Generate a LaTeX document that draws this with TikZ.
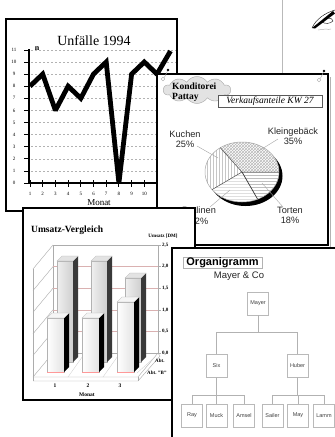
\documentclass[tikz,border=0pt]{standalone}
\usepackage{fontspec}
\setmainfont{Liberation Serif}
\setsansfont{Liberation Sans}
\usetikzlibrary{patterns,shapes.symbols,calc}
\newcommand{\fz}[1]{\fontsize{#1}{#1}\selectfont}
\begin{document}
\begin{tikzpicture}[x=1pt,y=-1pt,
  panel/.style={draw=black,line width=1.4pt,fill=white},
  ticklab/.style={inner sep=0pt,font=\fz{5}},
  grid1/.style={gray!60,line width=0.5pt,dash pattern=on 1.5pt off 2.5pt},
  pielab/.style={inner sep=0pt,align=center,text=black!85,font=\sffamily\fontsize{9.2}{10.5}\selectfont},
  leader/.style={gray!70,line width=0.4pt},
  wall/.style={gray!65,line width=0.4pt},
  valab/.style={inner sep=0pt,anchor=west,font=\bfseries\fz{5}},
  orgbox/.style={draw=gray!55,line width=0.5pt,fill=white,minimum width=21pt,minimum height=23pt,inner sep=0pt,text=black!75,font=\sffamily\fz{5.5}},
  conn/.style={gray!60,line width=0.5pt}
]
\useasboundingbox (0,0) rectangle (335,437);
\fill[white] (0,0) rectangle (335,437);

% sheet behind, top right, with a pen sketch
\draw[gray!55,line width=0.5pt] (282,0) -- (282,74);
\fill[black] (312,28) -- (333,11) -- (335,13.5) -- (315,28.5) -- cycle;
\draw[black,line width=0.4pt] (312,28) .. controls (316,19) and (325,13) .. (335,10);
\draw[black,line width=0.4pt] (322,22) .. controls (326,17) and (332,17) .. (333,21) .. controls (330,24) and (325,24) .. (322,22);
\draw[gray!70,line width=0.4pt] (318,30) .. controls (321,28) and (323,31) .. (326,29) .. controls (328,28) and (329,31) .. (331,29);

% ---------------- Unfälle 1994
\draw[panel] (6,19) rectangle (177,211);
\node[font=\fz{14}] (unftitle) at (94,41) {Unfälle 1994};
\foreach \v in {1,...,11}
  \draw[grid1] (31,{183-\v*12.1}) -- (176,{183-\v*12.1});
\draw[line width=1.7pt] (29,49) -- (29,183) -- (176,183);
\foreach \v in {0,...,11}{
  \draw[line width=0.8pt] (24,{183-\v*12.1}) -- (29,{183-\v*12.1});
  \node[ticklab] (yl\v) at (14,{183-\v*12.1}) {\v};
}
\foreach \m in {1,...,10}{
  \draw[line width=1pt] ({30+(\m-1)*12.7},180) -- ({30+(\m-1)*12.7},187);
  \node[ticklab] (xl\m) at ({30+(\m-1)*12.7},194) {\m};
}
\node[font=\bfseries\fz{8}] (nlab) at (37,49) {n};
\node[font=\fz{9}] (monat1) at (99,203) {Monat};
\draw[line width=4.8pt,line join=miter,miter limit=2.5]
  (30,86.2) -- (42.7,74.1) -- (55.4,110.4) -- (68.1,86.2) -- (80.8,98.3)
  -- (93.5,74.1) -- (106.2,62) -- (118.9,183) -- (131.6,74.1) -- (144.3,62)
  -- (157,74.1) -- (170.5,51);

% ---------------- Konditorei Pattay
\draw[gray!60,line width=0.6pt] (330.5,77) -- (330.5,247.5) -- (160,247.5);
\draw[panel] (157,74) rectangle (328,245);
\fill (168,70) circle (1.4);
\draw[gray!70,line width=0.4pt] (163,79) circle (1.8) (164.3,77.6) -- (167.5,71);
\fill (324,71) circle (1.4);
\draw[gray!70,line width=0.4pt] (319,80) circle (1.8) (320.3,78.6) -- (323.5,72);
\node[cloud,cloud puffs=10,cloud puff arc=115,aspect=2.6,draw=gray!70,fill=gray!22,
      minimum width=67pt,minimum height=27pt,inner sep=0pt] (cloud) at (197,90) {};
\node[anchor=west,inner sep=0pt,align=left,font=\bfseries\fontsize{9.5}{10}\selectfont] (kond) at (172,92) {Konditorei\\Pattay};
\node[draw=gray!70!black,line width=0.5pt,fill=white,minimum width=104pt,minimum height=12pt,
      inner sep=0pt,font=\itshape\fz{9.5}] (vk) at (270,101) {Verkaufsanteile KW 27};

\begin{scope}[shift={(242pt,-172pt)},y=1pt]
  \fill[black] (3.5,-4) ellipse [x radius=37pt,y radius=30pt];
  \fill[white] (0,0) ellipse [x radius=37pt,y radius=30pt];
  \path[pattern=crosshatch,pattern color=gray!55] (0,0) -- (0:37pt and 30pt)
    arc[start angle=0,end angle=126,x radius=37pt,y radius=30pt] -- cycle;
  \path[pattern=vertical lines,pattern color=gray!45] (0,0) -- (126:37pt and 30pt)
    arc[start angle=126,end angle=216,x radius=37pt,y radius=30pt] -- cycle;
  \path[pattern=horizontal lines,pattern color=gray!25] (0,0) -- (216:37pt and 30pt)
    arc[start angle=216,end angle=295,x radius=37pt,y radius=30pt] -- cycle;
  \path[pattern=horizontal lines,pattern color=gray!50] (0,0) -- (295:37pt and 30pt)
    arc[start angle=295,end angle=360,x radius=37pt,y radius=30pt] -- cycle;
  \draw[gray!70,line width=0.5pt] (0,0) ellipse [x radius=37pt,y radius=30pt];
  \draw[gray!60!black,line width=0.5pt] (0:37pt and 30pt) -- (0,0) -- (126:37pt and 30pt)
    (0,0) -- (216:37pt and 30pt);
  \draw[black!80,line width=0.7pt] (0,0) -- (295:37pt and 30pt);
\end{scope}
\node[pielab] (kuchen) at (185,139) {Kuchen\\25\%};
\node[pielab] (klein) at (293,136) {Kleingebäck\\35\%};
\node[pielab] (torten) at (290,215.5) {Torten\\18\%};
\node[pielab] (pral) at (199,215.5) {Pralinen\\22\%};
\coordinate (kuA) at (197,146); \coordinate (kuB) at (218,158);
\coordinate (klA) at (278,139); \coordinate (klB) at (257,152);
\coordinate (toA) at (283,207); \coordinate (toB) at (262,183);
\coordinate (prA) at (210,207); \coordinate (prB) at (230,190);
\draw[leader] (kuA) -- (kuB) (klA) -- (klB) (toA) -- (toB) (prA) -- (prB);

% ---------------- Umsatz-Vergleich
\draw[panel] (23,208) rectangle (195,400);
\node[anchor=west,inner sep=0pt,font=\bfseries\fz{9.5}] (umtitle) at (31,230) {Umsatz-Vergleich};
\node[inner sep=0pt,font=\bfseries\fz{5}] (umaxis) at (163,236) {Umsatz [DM]};
% walls and floor
\draw[wall] (53,245) rectangle (158,353);
\foreach \k in {1,...,4}
  \draw[red!35!gray!45,line width=0.4pt] (53,{245+\k*21.6}) -- (158,{245+\k*21.6});
\foreach \k in {0,...,5}{
  \draw[wall] (53,{245+\k*21.6}) -- (33,{269+\k*21.6});
  \draw[wall] (158,{245+\k*21.6}) -- (161,{245+\k*21.6});
}
\draw[wall] (33,269) -- (33,381);
\draw[wall] (33,377) -- (138,377) -- (158,353);
\draw[wall] (33,381) -- (138,381) -- (160,356) -- (158,353);
\draw[wall] (138,377) -- (138,381);
\draw[gray!40,line width=0.3pt] (85,353) -- (68,377) (120,353) -- (103,377) (155,357) -- (137,373);
\node[valab] (v25) at (162,245) {2,5};
\node[valab] (v20) at (162,266.6) {2,0};
\node[valab] (v15) at (162,288.2) {1,5};
\node[valab] (v10) at (162,309.8) {1,0};
\node[valab] (v05) at (162,331.4) {0,5};
\node[valab] (v00) at (162,353) {0,0};
% back row bars
\foreach \xl/\tp in {57/261, 91/261, 125/278}{
  \shade[left color=gray!12,right color=gray!38] (\xl,\tp) rectangle ({\xl+16},362);
  \draw[gray!60,line width=0.3pt] (\xl,\tp) rectangle ({\xl+16},362);
  \fill[gray!45!black] ({\xl+16},\tp) -- ({\xl+21},{\tp-5}) -- ({\xl+21},357) -- ({\xl+16},362) -- cycle;
  \filldraw[fill=gray!22,draw=gray!60,line width=0.3pt] (\xl,\tp) -- ({\xl+5},{\tp-5}) -- ({\xl+21},{\tp-5}) -- ({\xl+16},\tp) -- cycle;
}
% front row bars
\foreach \xl/\tp in {47/318, 82/318, 117/302}{
  \shade[left color=white,right color=gray!22] (\xl,\tp) rectangle ({\xl+17},372);
  \draw[gray!60,line width=0.3pt] (\xl,\tp) rectangle ({\xl+17},372);
  \draw[red!40,line width=0.4pt] (\xl,372) -- ({\xl+17},372);
  \fill[black] ({\xl+17},\tp) -- ({\xl+22},{\tp-5}) -- ({\xl+22},367) -- ({\xl+17},372) -- cycle;
  \filldraw[fill=gray!8,draw=gray!60,line width=0.3pt] (\xl,\tp) -- ({\xl+5},{\tp-5}) -- ({\xl+22},{\tp-5}) -- ({\xl+17},\tp) -- cycle;
}
\node[inner sep=0pt,font=\bfseries\fz{5.5}] (c1) at (55,386) {1};
\node[inner sep=0pt,font=\bfseries\fz{5.5}] (c2) at (88,386) {2};
\node[inner sep=0pt,font=\bfseries\fz{5.5}] (c3) at (120,386) {3};
\node[inner sep=0pt,font=\bfseries\fz{5.5}] (monat3) at (87,395) {Monat};
\node[inner sep=0pt,anchor=west,font=\bfseries\fz{5}] (abtA) at (155,361) {Abt.};
\node[inner sep=0pt,anchor=west,font=\bfseries\fz{5}] (abtB) at (147,373) {Abt. "B"};

% ---------------- Organigramm
\draw[panel] (172,248) rectangle (345,445);
\node[draw=gray!60,line width=0.6pt,minimum width=79pt,minimum height=11pt,inner sep=0pt,
      font=\sffamily\bfseries\fz{11}] (orgtitle) at (222.5,262.5) {Organigramm};
\node[inner sep=0pt,font=\sffamily\fz{9.5},text=black!85] (firm) at (239,276) {Mayer \& Co};
\node[orgbox] (mayer) at (258,303.5) {Mayer};
\node[orgbox] (six) at (216.5,366) {Six};
\node[orgbox] (huber) at (297.5,366) {Huber};
\node[orgbox] (ray) at (192,415.5) {Ray};
\node[orgbox] (muck) at (216.5,415.5) {Muck};
\node[orgbox] (amsel) at (244,415.5) {Amsel};
\node[orgbox] (sailer) at (272.5,415.5) {Sailer};
\node[orgbox] (may) at (298,415.5) {May};
\node[orgbox] (lamm) at (324,415.5) {Lamm};
\draw[conn] (mayer.south) -- ++(0,16.5) -| (six.north);
\draw[conn] (mayer.south) -- ++(0,16.5) -| (huber.north);
\draw[conn] (six.south) -- ++(0,17) -| (ray.north);
\draw[conn] (six.south) -- (muck.north);
\draw[conn] (six.south) -- ++(0,17) -| (amsel.north);
\draw[conn] (huber.south) -- ++(0,17) -| (sailer.north);
\draw[conn] (huber.south) -- ++(0,17) -| (may.north);
\draw[conn] (huber.south) -- ++(0,17) -| (lamm.north);
\end{tikzpicture}
\end{document}
